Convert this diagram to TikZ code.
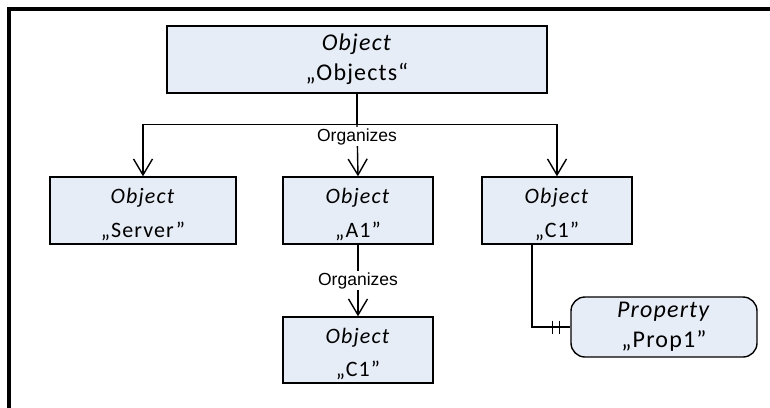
\documentclass[tikz,border=0pt]{standalone}
\usepackage{fontspec}
\setmainfont{Carlito}[LetterSpace=5]
\newfontfamily\lblfont{Liberation Sans}
\usetikzlibrary{positioning,calc,arrows.meta}

\definecolor{boxfill}{RGB}{231,237,247}

% type in italics, name below
\newcommand{\objtext}[2]{\rule{0pt}{23pt}\textit{#1}\\#2}

\tikzset{
  objbox/.style={draw, line width=1.4pt, fill=boxfill, align=center,
    minimum width=150pt, minimum height=67pt, inner sep=0pt,
    font=\fontsize{22}{33.4}\selectfont},
  propbox/.style={objbox, rounded corners=14pt, minimum width=186pt,
    minimum height=60pt, font=\fontsize{24}{30}\selectfont},
  refline/.style={line width=1.4pt, -{Straight Barb[length=16pt,width=19pt,line width=1.4pt]}},
  lbl/.style={fill=white, inner sep=1.5pt, font=\lblfont\fontsize{17.5}{20}\selectfont}
}

\begin{document}
\begin{tikzpicture}[x=1pt, y=-1pt]
    \useasboundingbox (0,0) rectangle (770,407);
    % frame
    \draw[line width=3.4pt] (9,420) -- (9,9) -- (780,9);

    \node[objbox, minimum width=380pt, font=\fontsize{24}{30}\selectfont]
      (objs) at (357,59.5) {\textit{Object}\\„Objects“};
    \node[objbox, minimum width=186pt] (server) at (143,210.5) {\objtext{Object}{„Server"}};
    \node[objbox] (a1) at (358,210.5) {\objtext{Object}{„A1"}};
    \node[objbox] (c1r) at (557,210.5) {\objtext{Object}{„C1"}};
    \node[objbox, minimum height=66pt] (c1b) at (358,350) {\objtext{Object}{„C1"}};
    \node[propbox] (prop) at (664,327) {\textit{Property}\\„Prop1"};

    \coordinate (split) at ($(objs.south)+(0,31)$);
    \draw[line width=1.4pt] (objs.south) -- (split);
    \draw[refline] (split) -| (server.north);
    \draw[refline] (split) -| (c1r.north);
    \draw[refline] (split) -- node[pos=0, below=1.5pt, lbl] {Organizes} (a1.north);
    \draw[refline] (a1.south) -- node[lbl] {Organizes} (c1b.north);

    \coordinate (c1foot) at ($(c1r.south)+(-25,0)$);
    \draw[line width=1.4pt] (c1foot) |- (prop.west);
    % the two bars before the property
    \foreach \d in {11,18}
      \draw[line width=1.4pt] ($(prop.west)+(-\d,-6.5)$) -- ++(0,13);
\end{tikzpicture}
\end{document}
